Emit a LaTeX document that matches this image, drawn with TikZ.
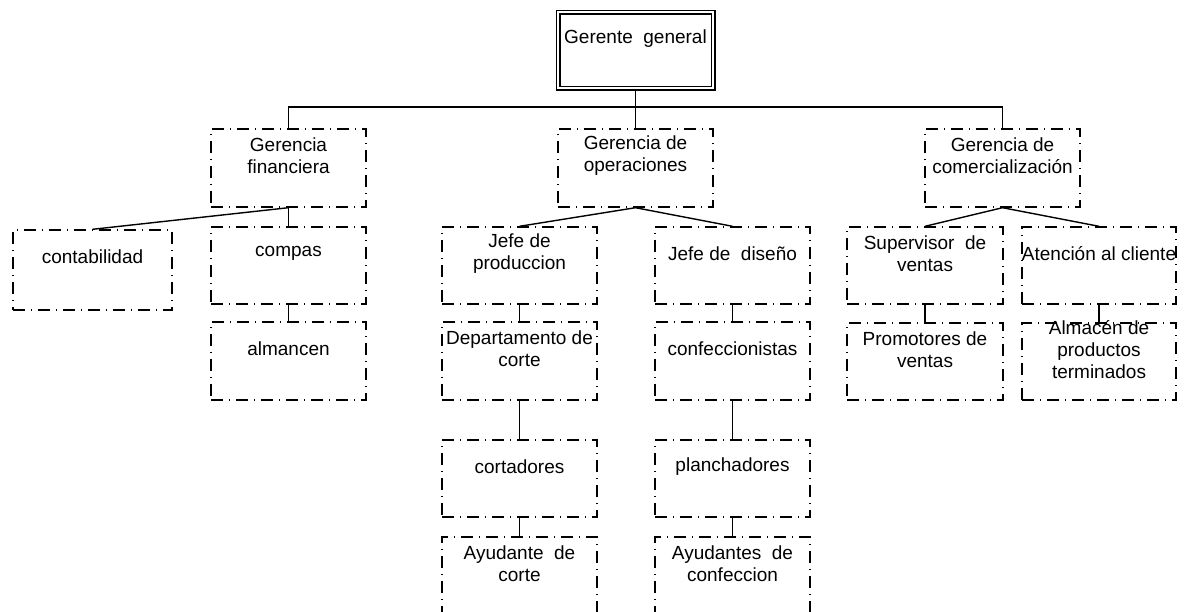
\documentclass[tikz,border=0pt]{standalone}
\usepackage{fontspec}
\setmainfont{Liberation Sans}
\begin{document}
\begin{tikzpicture}[x=0.5pt,y=-0.5pt,
  obox/.style={draw, line width=0.7pt, dash pattern=on 6pt off 3pt on 0.5pt off 3pt, inner sep=0pt},
  gbox/.style={draw, line width=0.6pt, double, double distance=1.3pt, inner sep=0pt},
  txt/.style={align=center, inner sep=0pt, font=\fontsize{9.5}{11}\selectfont},
  conn/.style={line width=0.7pt}]
\path[use as bounding box, clip] (0,0) rectangle (1186,611);
\newcommand{\mybox}[7][obox]{%
  \node[#1, minimum width=#4*0.5pt, minimum height=#5*0.5pt] (#2) at (#3) {};
  \node[txt] (#2-t) at ([yshift=-13.5pt]#2.north) {#6#7};}
\node[gbox, minimum width=155pt*0.5, minimum height=76pt*0.5] (gg) at (635.5,50) {};
\node[txt] (gg-t) at ([yshift=-13.5pt]gg.north) {Gerente~~general};
\mybox{gf}{288.5,168}{155}{78}{}{Gerencia\\financiera}
\mybox{go}{635.5,168}{155}{78}{}{Gerencia de\\operaciones}
\mybox{gc}{1002.5,168}{155}{78}{}{Gerencia de\\comercialización}
\mybox{cont}{92.5,270}{159}{80}{}{contabilidad}
\mybox{comp}{288.5,265.5}{155}{77}{}{compas}
\mybox{alm}{288.5,361}{155}{78}{}{almancen}
\mybox{jp}{519.5,265.5}{155}{77}{}{Jefe de\\produccion}
\mybox{jd}{732.5,265.5}{155}{77}{}{Jefe de~~diseño}
\mybox{dc}{519.5,361}{155}{78}{}{Departamento de\\corte}
\mybox{conf}{732.5,361}{155}{78}{}{confeccionistas}
\mybox{cort}{519.5,478.5}{155}{77}{}{cortadores}
\mybox{plan}{732.5,478.5}{155}{77}{}{planchadores}
\mybox{ayc}{519.5,585}{155}{96}{}{Ayudante~~de\\corte}
\mybox{aycf}{732.5,585}{155}{96}{}{Ayudantes~~de\\confeccion}
\mybox{sv}{925,265.5}{156}{77}{}{Supervisor~~de\\ventas}
\mybox{ac}{1099,265.5}{154}{77}{}{Atención al cliente}
\mybox{pv}{925,361.5}{156}{77}{}{Promotores de\\ventas}
\mybox{apt}{1099,361.5}{154}{77}{}{Almacén de\\productos\\terminados}
% connectors
\coordinate (bus) at (635.5,107);
\draw[conn] (gg.south) -- (gg.south |- bus);
\draw[conn] (gf.north) |- (bus) -| (gc.north);
\draw[conn] (go.north) -- (go.north |- bus);
\draw[conn] (gf.south) -- (cont.north);
\draw[conn] (gf.south) -- (comp.north);
\draw[conn] (comp.south) -- (alm.north);
\draw[conn] (go.south) -- (jp.north);
\draw[conn] (go.south) -- (jd.north);
\draw[conn] (jp.south) -- (dc.north);
\draw[conn] (dc.south) -- (cort.north);
\draw[conn] (cort.south) -- (ayc.north);
\draw[conn] (jd.south) -- (conf.north);
\draw[conn] (conf.south) -- (plan.north);
\draw[conn] (plan.south) -- (aycf.north);
\draw[conn] (gc.south) -- (sv.north);
\draw[conn] (gc.south) -- (ac.north);
\draw[conn] (sv.south) -- (pv.north);
\draw[conn] (ac.south) -- (apt.north);
\end{tikzpicture}
\end{document}
